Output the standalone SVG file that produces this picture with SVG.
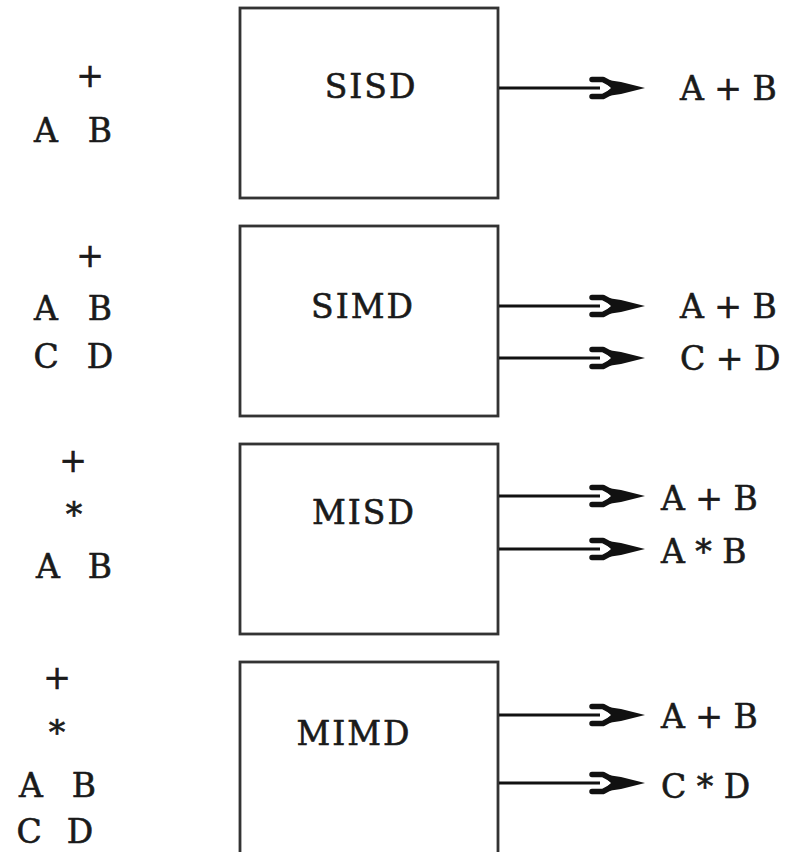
<svg xmlns="http://www.w3.org/2000/svg" width="786" height="852" viewBox="0 0 786 852">
  <style>
    text { font-family: "DejaVu Serif", "Liberation Serif", serif; font-size: 33px; fill: #1a1a1a; stroke: #1a1a1a; stroke-width: 0.6; }
    .mid { text-anchor: middle; }
    .name { letter-spacing: 2px; }
    .box { fill: #ffffff; stroke: #333333; stroke-width: 2.8; }
    .wire { stroke: #111111; stroke-width: 3; fill: none; }
  </style>
  <defs>
    <!-- arrowhead, tip at the origin, pointing right -->
    <g id="head">
      <path d="M-53,-8.5 L-42,-8.5 L-26,0 L-42,8.5 L-53,8.5" fill="none" stroke="#111111" stroke-width="5.5" stroke-linejoin="round" stroke-linecap="round"/>
      <path d="M-44,-9 L-24,-6 L0,0 L-24,6 L-44,9 L-34,0 Z" fill="#111111"/>
    </g>
  </defs>
  <rect width="786" height="852" fill="#ffffff"/>

  <!-- SISD -->
  <g id="sisd">
    <rect class="box" x="240" y="8" width="258" height="190"/>
    <text class="mid name" x="371" y="98">SISD</text>
    <text class="mid" x="90" y="87">+</text>
    <text class="mid" x="46" y="142">A</text>
    <text class="mid" x="100" y="142">B</text>
    <text x="680" y="100">A + B</text>
  </g>

  <!-- SIMD -->
  <g id="simd">
    <rect class="box" x="240" y="226" width="258" height="190"/>
    <text class="mid name" x="363" y="318">SIMD</text>
    <text class="mid" x="90" y="267">+</text>
    <text class="mid" x="46" y="320">A</text>
    <text class="mid" x="100" y="320">B</text>
    <text class="mid" x="46" y="368">C</text>
    <text class="mid" x="100" y="368">D</text>
    <text x="680" y="318">A + B</text>
    <text x="680" y="370">C + D</text>
  </g>

  <!-- MISD -->
  <g id="misd">
    <rect class="box" x="240" y="444" width="258" height="190"/>
    <text class="mid name" x="364" y="524">MISD</text>
    <text class="mid" x="73" y="472">+</text>
    <text class="mid" x="74" y="526">*</text>
    <text class="mid" x="48" y="578">A</text>
    <text class="mid" x="100" y="578">B</text>
    <text x="661" y="510">A + B</text>
    <text x="661" y="563">A * B</text>
  </g>

  <!-- MIMD -->
  <g id="mimd">
    <rect class="box" x="240" y="662" width="258" height="200"/>
    <text class="mid name" x="354" y="745">MIMD</text>
    <text class="mid" x="57" y="689">+</text>
    <text class="mid" x="57" y="744">*</text>
    <text class="mid" x="31" y="797">A</text>
    <text class="mid" x="84" y="797">B</text>
    <text class="mid" x="29" y="843">C</text>
    <text class="mid" x="80" y="843">D</text>
    <text x="661" y="728">A + B</text>
    <text x="661" y="798">C * D</text>
  </g>

  <!-- connectors -->
  <g id="connectors">
    <path class="wire" d="M499,88 H600"/>
    <use href="#head" x="645" y="88"/>
    <path class="wire" d="M499,306 H600"/>
    <use href="#head" x="645" y="306"/>
    <path class="wire" d="M499,358 H600"/>
    <use href="#head" x="645" y="358"/>
    <path class="wire" d="M499,496 H600"/>
    <use href="#head" x="645" y="496"/>
    <path class="wire" d="M499,549 H600"/>
    <use href="#head" x="645" y="549"/>
    <path class="wire" d="M499,715 H600"/>
    <use href="#head" x="645" y="715"/>
    <path class="wire" d="M499,783 H600"/>
    <use href="#head" x="645" y="783"/>
  </g>
</svg>
